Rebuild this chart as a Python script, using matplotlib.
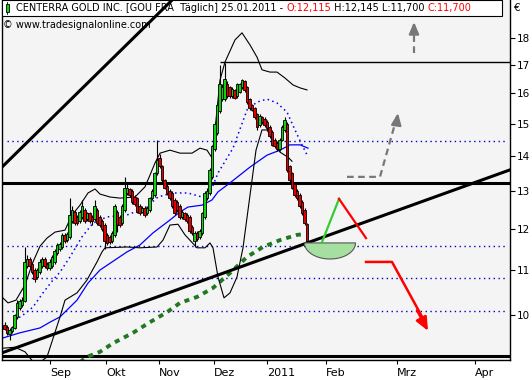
#!/usr/bin/env python3
import numpy as np
import matplotlib
matplotlib.use("Agg")
import matplotlib.pyplot as plt
from matplotlib.patches import Rectangle, Polygon
from matplotlib.ticker import NullLocator
import matplotlib.transforms as mtransforms

# daily candles, early Aug 2010 .. 25.01.2011 (EUR)
opens = [9.80, 9.75, 9.60, 9.66, 9.72, 9.95, 10.15, 10.22, 10.30, 11.10,
         11.25, 11.15, 11.00, 10.85, 10.95, 11.10, 11.25, 11.15, 11.05, 11.10,
         11.20, 11.40, 11.50, 11.55, 11.85, 11.72, 11.80, 12.20, 12.45, 12.30,
         12.20, 12.30, 12.50, 12.25, 12.40, 12.30, 12.25, 12.50, 12.30, 12.20,
         12.10, 11.85, 11.80, 11.70, 11.85, 12.45, 12.30, 12.15, 12.50, 12.95,
         13.05, 13.00, 12.85, 12.80, 12.60, 12.45, 12.55, 12.40, 12.50, 12.80,
         12.90, 13.50, 13.95, 13.70, 13.30, 13.15, 13.00, 12.95, 12.75, 12.70,
         12.60, 12.30, 12.40, 12.35, 12.30, 12.05, 11.70, 11.90, 11.80, 11.90,
         12.30, 12.80, 12.95, 13.40, 14.20, 14.70, 15.40, 15.80, 15.80, 16.30,
         16.20, 15.90, 16.10, 15.90, 16.05, 16.20, 16.40, 16.20, 15.80, 15.60,
         15.50, 15.30, 14.95, 15.20, 15.15, 15.05, 14.90, 14.75, 14.50, 14.40,
         14.20, 14.50, 14.80, 15.00, 13.70, 13.50, 13.20, 13.00, 12.90, 12.70,
         12.50, 12.115]
highs = [9.85, 9.80, 9.72, 9.78, 10.02, 10.32, 10.35, 10.38, 11.55, 11.35,
         11.30, 11.20, 11.05, 11.05, 11.25, 11.30, 11.30, 11.20, 11.25, 11.35,
         11.50, 11.65, 11.68, 11.90, 11.90, 11.92, 12.80, 12.60, 12.50, 12.35,
         12.50, 12.75, 12.55, 12.45, 12.45, 12.35, 12.75, 12.55, 12.35, 12.25,
         12.15, 11.90, 11.85, 11.95, 12.65, 12.50, 12.35, 12.65, 13.40, 13.20,
         13.10, 13.05, 12.90, 12.85, 12.65, 12.60, 12.60, 12.60, 12.85, 13.05,
         13.55, 14.50, 14.05, 13.75, 13.35, 13.20, 13.05, 13.00, 12.80, 12.75,
         12.65, 12.50, 12.45, 12.40, 12.35, 12.10, 11.95, 11.95, 12.00, 12.45,
         13.00, 13.10, 13.65, 14.35, 15.05, 15.65, 17.00, 16.30, 17.05, 16.40,
         16.25, 16.20, 16.15, 16.35, 16.35, 16.50, 16.45, 16.25, 15.85, 15.65,
         15.55, 15.35, 15.30, 15.25, 15.20, 15.10, 14.95, 14.80, 14.55, 14.45,
         14.55, 14.95, 15.20, 15.05, 13.75, 13.55, 13.25, 13.05, 12.95, 12.75,
         12.55, 12.145]
lows = [9.68, 9.58, 9.48, 9.62, 9.70, 9.92, 10.10, 10.18, 10.28, 11.05,
        11.05, 10.90, 10.72, 10.80, 10.90, 11.05, 11.05, 11.00, 11.00, 11.05,
        11.15, 11.35, 11.45, 11.50, 11.65, 11.68, 11.75, 12.15, 12.10, 12.10,
        12.15, 12.25, 12.15, 12.20, 12.15, 12.10, 12.20, 12.10, 12.05, 11.95,
        11.50, 11.60, 11.62, 11.65, 11.80, 11.92, 12.05, 12.10, 12.45, 12.90,
        12.85, 12.65, 12.60, 12.40, 12.35, 12.40, 12.30, 12.35, 12.45, 12.75,
        12.85, 13.45, 13.65, 13.25, 13.05, 12.90, 12.75, 12.55, 12.35, 12.45,
        12.25, 12.25, 12.20, 12.15, 11.90, 11.85, 11.55, 11.70, 11.75, 11.85,
        12.25, 12.75, 12.90, 13.35, 14.15, 14.65, 15.35, 15.75, 15.75, 15.85,
        15.85, 15.85, 15.80, 15.85, 16.00, 16.15, 16.05, 15.65, 15.45, 15.40,
        15.15, 14.80, 14.90, 15.00, 14.90, 14.80, 14.55, 14.30, 14.25, 14.15,
        14.15, 14.45, 14.75, 13.55, 13.25, 13.05, 12.85, 12.75, 12.55, 12.35,
        12.10, 11.70]
closes = [9.70, 9.62, 9.68, 9.75, 10.00, 10.25, 10.30, 10.32, 11.20, 11.25,
          11.10, 10.95, 10.80, 11.00, 11.20, 11.25, 11.10, 11.05, 11.20, 11.30,
          11.45, 11.60, 11.62, 11.85, 11.70, 11.88, 12.35, 12.50, 12.15, 12.15,
          12.45, 12.60, 12.20, 12.40, 12.20, 12.20, 12.60, 12.15, 12.10, 12.00,
          11.70, 11.65, 11.68, 11.90, 12.60, 12.10, 12.10, 12.60, 13.10, 13.10,
          12.90, 12.70, 12.65, 12.45, 12.40, 12.55, 12.35, 12.55, 12.80, 13.00,
          13.50, 13.90, 13.70, 13.30, 13.10, 12.95, 12.80, 12.60, 12.40, 12.50,
          12.30, 12.45, 12.25, 12.20, 11.95, 11.90, 11.90, 11.75, 11.95, 12.40,
          12.95, 13.00, 13.60, 14.30, 15.00, 15.60, 16.30, 16.20, 16.50, 15.90,
          15.90, 16.15, 15.85, 16.30, 16.30, 16.45, 16.10, 15.70, 15.50, 15.45,
          15.20, 14.90, 15.25, 15.05, 14.95, 14.85, 14.60, 14.35, 14.30, 14.20,
          14.50, 14.90, 15.10, 13.60, 13.30, 13.10, 12.90, 12.80, 12.60, 12.40,
          12.15, 11.70]

# indicator lines (bar slot, price)
upper_band_x = [0, 2.4, 5.6, 9.2, 12.4, 15.2, 18, 21.2, 25.2, 28, 31.2, 34.4, 37.2,
                39.2, 43.2, 47.2, 53.2, 57.2, 59.2, 61.2, 63.2, 67.2, 71.2, 76,
                79.2, 82, 84, 85.6, 87.2, 89.2, 93.2, 96, 99.2, 102, 104, 107.2,
                110, 113.2, 116.4, 119.2, 122]
upper_band_y = [10.39, 10.26, 10.32, 10.66, 11.19, 11.57, 11.77, 11.92, 11.97, 12.36,
                12.62, 12.95, 13.06, 12.92, 12.84, 12.81, 12.84, 13.12, 13.45,
                13.80, 14.09, 14.18, 14.09, 14.09, 14.24, 14.18, 13.95, 15.12,
                16.45, 17.09, 17.91, 18.18, 17.72, 17.27, 16.81, 16.73, 16.73,
                16.52, 16.28, 16.18, 16.11]
lower_band_x = [0, 5.2, 9.2, 13.6, 18, 23.2, 25.2, 30, 34, 38, 40, 41.2, 50, 55.2,
                62, 64.4, 67.2, 70.4, 73.2, 78, 81.2, 83.2, 84.4, 86.4, 88.8,
                91.2, 94, 96.4, 99.2, 101.6, 104, 106, 111.2, 114.4, 116]
lower_band_y = [9.32, 9.34, 9.25, 8.99, 9.15, 9.96, 10.32, 10.48, 10.77, 11.19,
                11.43, 11.53, 11.55, 11.53, 11.55, 11.72, 12.10, 12.12, 11.85,
                11.53, 11.53, 11.65, 11.53, 10.84, 10.37, 10.48, 10.84, 11.53,
                12.89, 14.18, 14.80, 14.80, 14.12, 13.97, 13.85]
sma_x = [0, 7.2, 15.2, 19.2, 23.2, 30, 34.4, 39.2, 50, 55.2, 60.4, 67.2, 71.2,
         74.4, 80, 84, 86.4, 91.2, 99.2, 106, 111.2, 115.2, 119.2, 122.4]
sma_y = [9.52, 9.63, 9.73, 9.85, 9.96, 10.32, 10.70, 11.00, 11.43, 11.60, 11.90,
         12.23, 12.44, 12.57, 12.62, 12.76, 12.98, 13.23, 13.68, 14.03, 14.18,
         14.34, 14.34, 14.24]
fast_x = [5.2, 8.4, 12.4, 16.4, 20.4, 23.2, 27.2, 32, 36.4, 42, 50, 57.2, 62.4,
          68, 74.4, 80, 83.2, 86.4, 92.4, 98, 102, 106, 110, 114, 117.2, 120, 122]
fast_y = [9.89, 10.00, 10.17, 10.48, 10.77, 10.95, 11.31, 11.80, 12.15, 12.31,
          12.36, 12.54, 12.84, 12.95, 12.95, 12.84, 12.95, 13.51, 14.24, 15.44,
          15.70, 15.80, 15.67, 15.37, 14.80, 14.34, 14.04]
long_x = [31.2, 34, 39.2, 44.4, 52.4, 59.2, 66, 71.2, 78, 84.4, 91.2, 98, 104.4,
          111.2, 118, 121.2]
long_y = [9.05, 9.15, 9.25, 9.42, 9.63, 9.85, 10.06, 10.26, 10.39, 10.59, 10.93,
          11.31, 11.55, 11.72, 11.85, 11.87]

# drawn lines
resistance = 13.22
dec_high = 17.09
floor_line = 9.16
dotted_levels = [14.46, 11.57, 10.82, 10.09]
trend_low_x = [0, 203.2]
trend_low_y = [9.23, 13.60]
trend_up_x = [0, 80]
trend_up_y = [13.68, 20.74]
bowl_center, bowl_halfwidth, bowl_top, bowl_bottom = 131.2, 10.2, 11.65, 11.26
green_leg_x = [128, 134.8]
green_leg_y = [11.67, 12.79]
red_leg_x = [134.8, 145.6]
red_leg_y = [12.79, 11.77]
red_arrow_x = [145.6, 156, 170.4]
red_arrow_y = [11.19, 11.19, 9.67]
gray_arrow_x = [138, 151.2, 158.4]
gray_arrow_y = [13.40, 13.40, 15.34]
gray_up_x = [164.8, 164.8]
gray_up_y = [17.42, 18.60]

month_pos = [19.2, 41.6, 62.9, 84.8, 106, 129.6, 158, 189.2]
month_labels = ["Sep", "Okt", "Nov", "Dez", "2011", "Feb", "Mrz", "Apr"]
price_ticks = [10, 11, 12, 13, 14, 15, 16, 17, 18]

W, H = 532, 380
plt.rcParams["font.family"] = ["DejaVu Sans"]
fig = plt.figure(figsize=(W / 100, H / 100), dpi=100)
ax = fig.add_axes([2 / W, 20 / H, 508 / W, 360 / H])
ax.set_facecolor("#f4f4f4")
ax.set_yscale("log")
ax.set_xlim(0, 203.2)
ax.set_ylim(9.091, 19.49)

# horizontal levels
for lv in dotted_levels:
    ax.axhline(lv, xmin=0.01, xmax=0.995, color="#0000cc", lw=1.0,
               ls=(0, (1, 2.5)), zorder=1)
ax.axhline(resistance, color="black", lw=2.2, zorder=2)
ax.axhline(floor_line, color="black", lw=2.2, zorder=2)
ax.hlines(dec_high, 87, 203.2, color="black", lw=1.0, zorder=2)

# indicators
ax.plot(long_x, long_y, color="#1f7a1f", lw=2.8, ls=(0, (1.3, 1.3)), zorder=2)
ax.plot(sma_x, sma_y, color="#0000ff", lw=0.9, zorder=2)
ax.plot(fast_x, fast_y, color="#0000ee", lw=1.1, ls=(0, (1, 2.2)), zorder=2)
ax.plot(upper_band_x, upper_band_y, color="black", lw=0.8, zorder=2)
ax.plot(lower_band_x, lower_band_y, color="black", lw=0.8, zorder=2)

# trend lines
ax.plot(trend_low_x, trend_low_y, color="black", lw=2.2, zorder=4)
ax.plot(trend_up_x, trend_up_y, color="black", lw=2.2, zorder=6)

# candles
o = np.array(opens)
h = np.array(highs)
l = np.array(lows)
c = np.array(closes)
idx = np.arange(1, len(c) + 1)
colors = np.where(c >= o, "#10d010", "#e00000")
ax.vlines(idx, l, h, color="black", lw=0.8, zorder=3)
ax.bar(idx, np.abs(c - o), bottom=np.minimum(o, c), width=0.85, color=colors,
       edgecolor="black", linewidth=0.6, zorder=3)

# projection sketch
t = np.linspace(0, np.pi, 60)
lt, lb = np.log(bowl_top), np.log(bowl_bottom)
bx = bowl_center + bowl_halfwidth * np.cos(t)
by = np.exp(lt - (lt - lb) * np.sin(t))
ax.add_patch(Polygon(np.column_stack([bx, by]), closed=True, facecolor="#a6e0a0",
                     edgecolor="#555555", lw=0.8, zorder=4))
ax.plot(green_leg_x, green_leg_y, color="#33cc33", lw=1.6, zorder=5)
ax.plot(red_leg_x, red_leg_y, color="#ff0000", lw=1.6, zorder=5)
ax.plot(red_arrow_x[:-1] + [red_arrow_x[-1] - 1.2], red_arrow_y[:-1] + [9.85],
        color="#ff0000", lw=1.8, zorder=5)
ax.annotate("", xy=(red_arrow_x[-1], red_arrow_y[-1]),
            xytext=(red_arrow_x[-2] + 10, 10.1),
            arrowprops=dict(arrowstyle="-|>,head_length=0.8,head_width=0.35",
                            color="#ff0000", lw=1.8, shrinkA=0, shrinkB=0),
            zorder=5)
ax.plot(gray_arrow_x, gray_arrow_y, color="#777777", lw=1.6,
        ls=(0, (3, 2)), zorder=5)
ax.annotate("", xy=(gray_arrow_x[-1], gray_arrow_y[-1]),
            xytext=(gray_arrow_x[-1] - 0.6, 15.0),
            arrowprops=dict(arrowstyle="-|>,head_length=0.7,head_width=0.3",
                            color="#777777", lw=1.6, shrinkA=0, shrinkB=0),
            zorder=5)
ax.plot(gray_up_x, gray_up_y, color="#777777", lw=1.6, ls=(0, (3, 2)), zorder=5)
ax.annotate("", xy=(gray_up_x[-1], gray_up_y[-1]),
            xytext=(gray_up_x[0], 18.2),
            arrowprops=dict(arrowstyle="-|>,head_length=0.7,head_width=0.3",
                            color="#777777", lw=1.6, shrinkA=0, shrinkB=0),
            zorder=5)

# axes
ax.set_xticks(month_pos)
ax.set_xticklabels(month_labels)
for lbl in ax.get_xticklabels():
    lbl.set_horizontalalignment("left")
ax.tick_params(axis="x", direction="out", length=3, pad=3, labelsize=8)
ax.yaxis.tick_right()
ax.set_yticks(price_ticks)
ax.set_yticklabels([str(p) for p in price_ticks])
ax.yaxis.set_minor_locator(NullLocator())
ax.tick_params(axis="y", direction="out", length=3.5, pad=1.5, labelsize=7.5)
for side in ["left", "right", "bottom"]:
    ax.spines[side].set_color("black")
    ax.spines[side].set_linewidth(1.0)
ax.spines["top"].set_visible(False)

# header box
pix = mtransforms.IdentityTransform()
ax.add_patch(Rectangle((0, 1 - 16 / 360), 500 / 508, 16 / 360, transform=ax.transAxes,
                       facecolor="white", edgecolor="black", lw=0.8, zorder=5))
ax.add_patch(Rectangle((5.5, H - 12), 3, 8, transform=pix, facecolor="#10d010",
                       edgecolor="black", lw=0.6, zorder=7))
ax.add_line(plt.Line2D([7, 7], [H - 14, H - 2], transform=pix, color="black",
                       lw=0.6, zorder=6))
head = ax.text(16, H - 8, "CENTERRA GOLD INC. [GOU FRA  Täglich] 25.01.2011 - ",
               transform=pix, fontsize=7.0, va="center", ha="left", zorder=7)
prev = head
for piece, col in [("O:12,115", "#ff0000"), (" H:12,145 L:11,700 ", "black"),
                   ("C:11,700", "#ff0000")]:
    prev = ax.annotate(piece, xy=(1, 0), xycoords=prev, va="bottom", ha="left",
                       fontsize=7.0, color=col, zorder=7)
ax.text(3, H - 25, "© www.tradesignalonline.com", transform=pix, fontsize=7.0,
        va="center", ha="left", zorder=7)
fig.text(514 / W, 1 - 8 / H, "€", fontsize=7.5, va="center", ha="left")

fig.savefig("out.png", dpi=100)
